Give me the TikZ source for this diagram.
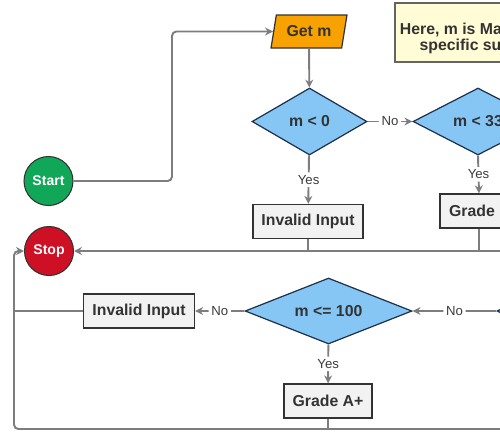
\documentclass[tikz,border=0pt]{standalone}
\usepackage{fontspec}
\setmainfont{Liberation Sans}
\usetikzlibrary{shapes.geometric,arrows.meta}
\definecolor{lineg}{RGB}{125,125,125}
\definecolor{bordc}{RGB}{50,50,50}
\definecolor{boxf}{RGB}{242,242,242}
\definecolor{textc}{RGB}{51,51,51}
\definecolor{labelc}{RGB}{60,60,60}
\definecolor{decf}{RGB}{134,198,245}
\definecolor{decb}{RGB}{30,50,75}
\definecolor{startf}{RGB}{16,168,88}
\definecolor{stopf}{RGB}{206,16,36}
\definecolor{getf}{RGB}{247,162,0}
\definecolor{notef}{RGB}{255,252,214}
\definecolor{noteb}{RGB}{100,100,100}
\begin{document}
\begin{tikzpicture}[x=0.02cm,y=-0.02cm,
  conn/.style={draw=lineg,line width=1.1pt,-{Stealth[length=4.5pt,width=4.5pt]},rounded corners=2.5pt},
  plain/.style={draw=lineg,line width=1.1pt},
  lbl/.style={fill=white,text=labelc,font=\fontsize{7.5}{9}\selectfont,inner sep=1.5pt},
  box/.style={rectangle,draw=bordc,fill=boxf,line width=0.8pt,minimum height=0.68cm,font=\bfseries\fontsize{9}{10}\selectfont,text=textc,inner sep=0pt},
  dec/.style={diamond,aspect=2.5,draw=decb,fill=decf,line width=0.7pt,inner sep=0pt,font=\bfseries\fontsize{9}{10}\selectfont,text=textc},
  term/.style={circle,draw=bordc,line width=0.6pt,minimum size=0.98cm,inner sep=0pt,text=white,font=\bfseries\fontsize{8}{9}\selectfont}
]
\useasboundingbox (0,0) rectangle (500,434);
\clip (0,0) rectangle (500,434);

% nodes
\node[term,fill=startf] (start) at (48.5,181) {Start};
\node[term,fill=stopf] (stop) at (49,251) {Stop};
\node[trapezium,trapezium left angle=72,trapezium right angle=108,trapezium stretches=true,
      draw=bordc,fill=getf,line width=0.7pt,minimum width=1.52cm,minimum height=0.66cm,inner sep=0pt,
      font=\bfseries\fontsize{9}{10}\selectfont,text=textc] (getm) at (309,31.5) {Get m};
\node[dec,minimum width=2.3cm,minimum height=1.34cm] (d1) at (309.5,121.5) {m < 0};
\node[dec,minimum width=2.6cm,minimum height=1.34cm] (d2) at (478,121.5) {m < 33};
\node[box,minimum width=2.2cm] (inv1) at (308,221.5) {Invalid Input};
\node[box,minimum width=1.56cm] (g1) at (479,211) {Grade F};
\node[dec,minimum width=3.34cm,minimum height=1.32cm] (d3) at (328.5,311) {m <= 100};
\node[dec,minimum width=2.6cm,minimum height=1.32cm] (d4) at (562,311) {};
\node[box,minimum width=2.22cm] (inv2) at (139,311) {Invalid Input};
\node[box,minimum width=1.76cm] (gap) at (328,401) {Grade A+};
\node[rectangle,draw=noteb,fill=notef,line width=0.9pt,minimum width=3.4cm,minimum height=1.18cm,anchor=north west] (note) at (394,2) {};
\node[align=center,font=\bfseries\fontsize{9}{9.2}\selectfont,text=textc] (notetext) at (479,38) {Here, m is Marks of a\\specific subject};

% helper coordinates
\coordinate (c1) at (172,181);
\coordinate (bl) at (14,429);
\coordinate (br) at (520,429);
\coordinate (tr) at (520,251);

% connectors
\draw[conn] (start.east) -- (c1) |- (getm.west);
\draw[conn] (getm) -- (d1);
\draw[conn] (d1) -- node[lbl]{No} (d2);
\draw[conn] (d1) -- node[lbl]{Yes} (inv1);
\draw[conn] (d2.south) -- node[lbl]{Yes} (g1.north);
\draw[conn] (d4) -- node[lbl]{No} (d3);
\draw[conn] (d3) -- node[lbl]{No} (inv2);
\draw[conn] (d3) -- node[lbl]{Yes} (gap);
\draw[conn] (tr) -- (stop);
\draw[plain] (inv1.south) -- (inv1.south |- tr);
\draw[plain] (g1.south) -- (g1.south |- tr);
\draw[conn] (br) -- (bl) |- (stop.west);
\draw[plain] (gap.south) -- (gap.south |- br);
\draw[plain] (inv2.west) -- (inv2.west -| bl);
\end{tikzpicture}
\end{document}
